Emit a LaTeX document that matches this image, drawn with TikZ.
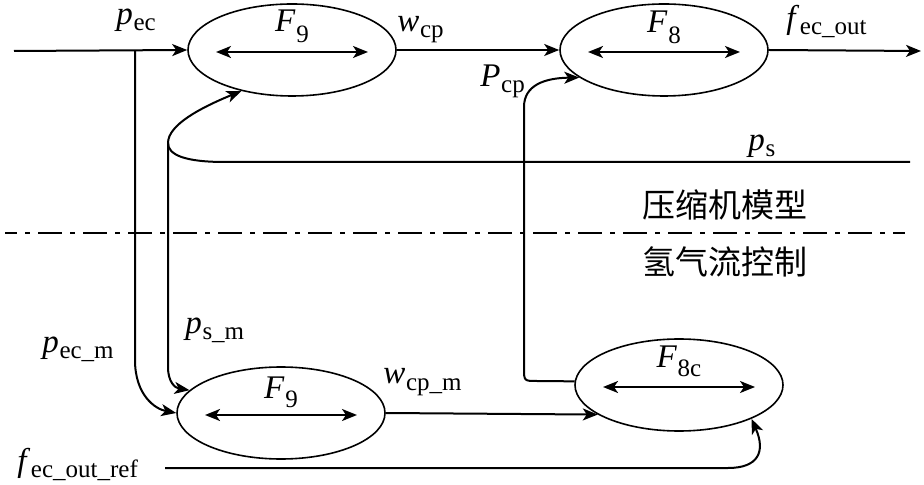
\documentclass[tikz,border=0pt]{standalone}
\usepackage{fontspec}
\setmainfont{Liberation Serif}
\newfontfamily\cjk{Noto Sans CJK SC}
\usetikzlibrary{shapes.geometric, arrows.meta, calc, positioning}
\newcommand{\subsz}{\fontsize{12.5pt}{12.5pt}\selectfont}
% variable with lowered subscript
\newcommand{\sv}[3][3pt]{\textit{#2}\kern.3pt\raisebox{-#1}{\subsz #3}}

\begin{document}
\begin{tikzpicture}[
    x = 0.5pt, y = -0.5pt,
    font = \fontsize{16.5pt}{16.5pt}\selectfont,
    block/.style = {
      ellipse, draw, line width = 0.8pt, inner sep = 0pt,
      minimum width = 104pt, minimum height = 46pt
    },
    wire/.style = {line width = 1pt},
    signal/.style = {
      wire, -{Stealth[length = 7.5pt, width = 6pt, inset = 2pt]}
    },
    twoway/.style = {
      wire,
      {Stealth[length = 7.5pt, width = 6pt, inset = 2pt]}-{Stealth[length = 7.5pt, width = 6pt, inset = 2pt]}
    },
    lbl/.style = {inner sep = 0pt, anchor = base west},
    fname/.style = {inner sep = 0pt, anchor = base},
    zone/.style = {font = \cjk\fontsize{16.5pt}{16.5pt}\selectfont, inner sep = 0pt},
    divider/.style = {
      wire, dash pattern = on 12pt off 4pt on 2.5pt off 4pt, dash phase = 6pt
    },
    ]
    \useasboundingbox (0,0) rectangle (924,485);

    % draw blocks
    \node  [block]  (f9a)  at (292,50)  {};
    \node  [block]  (f8a)  at (664,50)  {};
    \node  [block]  (f9b)  at (281,413)  {};
    \node  [block]  (f8c)  at (679,385)  {};

    \node  [fname]  (nf9a)  at ($(f9a)+(0,-18)$)  {\sv[5.5pt]{F}{9}};
    \node  [fname]  (nf8a)  at ($(f8a)+(0,-17)$)  {\sv[5.5pt]{F}{8}};
    \node  [fname]  (nf9b)  at ($(f9b)+(0,-15)$)  {\sv[5pt]{F}{9}};
    \node  [fname]  (nf8c)  at ($(f8c)+(0,-18)$)  {\sv[5pt]{F}{8c}};

    % two-way arrows inside the blocks
    \foreach \b in {f9a, f8a, f9b, f8c} {
      \coordinate (\b l) at ($(\b)+(-76,2)$);
      \coordinate (\b r) at ($(\b)+(76,2)$);
      \draw  [twoway]  (\b l) -- (\b r);
    }

    % free ends
    \coordinate (src)  at (14,51);
    \coordinate (tap)  at (135,51);
    \coordinate (sink) at (921,51);
    \coordinate (psin) at (910,162);
    \coordinate (join) at (168,143);
    \coordinate (ref)  at (165,468);
    \coordinate (sepl) at (5,233);
    \coordinate (sepr) at (905,233);

    % draw paths
    \draw  [signal]  (src) -- (f9a.west);
    \draw  [signal]  (f9a.east) -- (f8a.west);
    \draw  [signal]  (f8a.east) -- (sink);
    \draw  [signal]  (tap) -- (135,360) .. controls (135,395) and (155,409) .. (f9b.west);
    \draw  [wire]  (psin) -- (225,162) .. controls (185,162) and (168,155) .. (join);
    \draw  [signal]  (join) .. controls (168,125) and (200,108) .. (f9a.219);
    \draw  [signal]  (join) -- (168,367) .. controls (168,382) and (175,388) .. (f9b.166);
    \draw  [signal]  (f8c.178) -- (537,381) .. controls (524,381) .. (524,368)
      -- (524,107) .. controls (524,85) and (545,78) .. (f8a.198);
    \draw  [signal]  (f9b.east) -- (f8c.200);
    \draw  [signal]  (ref) -- (728,468) .. controls (758,468) and (766,452) .. (f8c.335);
    \draw  [divider]  (sepl) -- (sepr);

    % labels
    \node  [lbl]  (lpec)   at (116,25)  {\sv{p}{ec}};
    \node  [lbl]  (lwcp)   at (397,32)  {\sv{w}{cp}};
    \node  [lbl]  (lfout)  at (786,29)  {\sv{f}{ec\_out}};
    \node  [lbl]  (lpcp)   at (480,87)  {\sv{P}{cp}};
    \node  [lbl]  (lps)    at (748,151)  {\sv{p}{s}};
    \node  [lbl]  (lpecm)  at (42,352)  {\sv{p}{ec\_m}};
    \node  [lbl]  (lpsm)   at (185,334)  {\sv{p}{s\_m}};
    \node  [lbl]  (lwcpm)  at (383,384)  {\sv{w}{cp\_m}};
    \node  [lbl]  (lfref)  at (17,471)  {\sv{f}{ec\_out\_ref}};

    % zones
    \node  [zone]  (upper)  at (725,205)  {压缩机模型};
    \node  [zone]  (lower)  at (725,262)  {氢气流控制};
\end{tikzpicture}
\end{document}
